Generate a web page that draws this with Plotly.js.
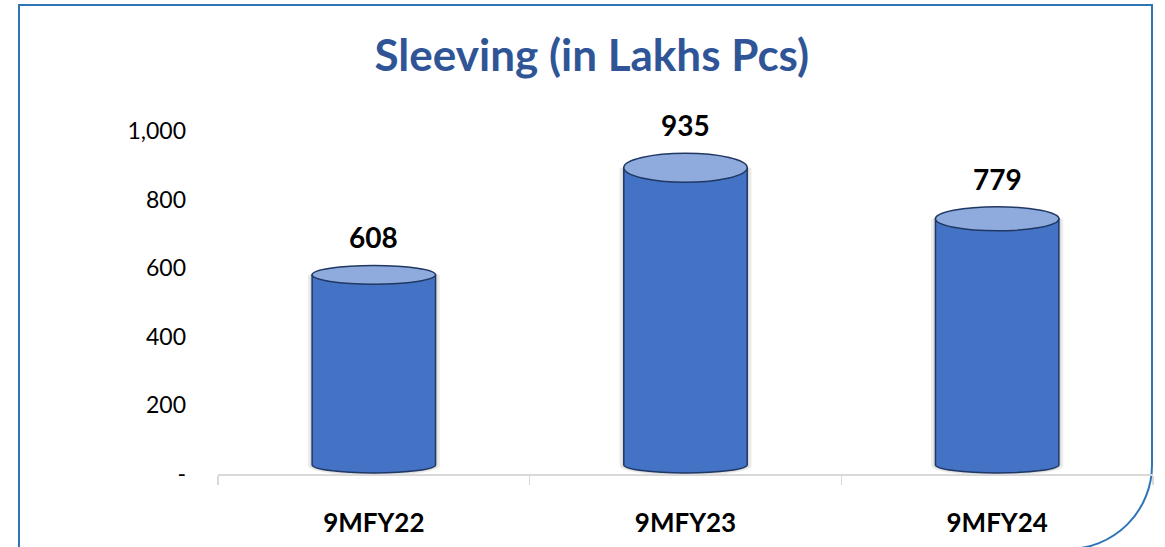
<!DOCTYPE html>
<html>
<head>
<meta charset="utf-8">
<script src="https://cdn.plot.ly/plotly-3.0.1.min.js"></script>
<style>
  html, body { margin:0; padding:0; width:1165px; height:547px; overflow:hidden; background:#fff; }
  #frame { position:absolute; left:18px; top:4px; width:1135px; height:546px; box-sizing:border-box;
           border:2.5px solid #2E75B6; border-bottom-right-radius:85px; }
  #chart { position:absolute; left:0; top:0; width:1165px; height:547px; }
</style>
</head>
<body>
<div id="frame"></div>
<div id="chart"></div>
<script>
const categories = ['9MFY22', '9MFY23', '9MFY24'];
const values = [608, 935, 779];
const yTickVals = [0, 200, 400, 600, 800, 1000];
const yTickText = ['-', '200', '400', '600', '800', '1,000'];

const FONT = 'Lato, "Open Sans", sans-serif';
const BODY = '#4472C4', TOP = '#8FAADC', EDGE = '#1F3864';
const halfW = 0.198, k = 0.5523, ryB = 24, botC = 27;

const xs = categories.map((c, i) => i);
const topC = values.map(v => v - 0.045 * v);

const shapes = [];
values.forEach((v, i) => {
  const ryT = 0.045 * v;
  const tc = v - ryT;
  const L = i - halfW, R = i + halfW;
  const bodyPath = (l, r, t, b, ry, cx) =>
    `M ${l},${t} L ${l},${b} C ${l},${b - k * ry} ${cx - k * (r - l) / 2},${b - ry} ${cx},${b - ry} ` +
    `C ${cx + k * (r - l) / 2},${b - ry} ${r},${b - k * ry} ${r},${b} L ${r},${t} Z`;
  // soft shadow
  shapes.push({ type: 'path', xref: 'x', yref: 'y', layer: 'below',
    path: bodyPath(L - 0.014, R + 0.014, tc, botC - 4, ryB + 4, i),
    fillcolor: 'rgba(0,0,0,0.07)', line: { width: 0 } });
  shapes.push({ type: 'path', xref: 'x', yref: 'y', layer: 'below',
    path: bodyPath(L - 0.007, R + 0.007, tc, botC - 2, ryB + 2, i),
    fillcolor: 'rgba(0,0,0,0.08)', line: { width: 0 } });
  // body outline
  shapes.push({ type: 'path', xref: 'x', yref: 'y', layer: 'above',
    path: bodyPath(L, R, tc, botC, ryB, i),
    fillcolor: BODY, line: { color: EDGE, width: 1.5 } });
  // top ellipse
  shapes.push({ type: 'circle', xref: 'x', yref: 'y', layer: 'above',
    x0: L, x1: R, y0: v - 2 * ryT, y1: v,
    fillcolor: TOP, line: { color: EDGE, width: 1.5 } });
});

const annotations = values.map((v, i) => ({
  x: i, y: v, xref: 'x', yref: 'y', text: '<b>' + v + '</b>', showarrow: false,
  yanchor: 'bottom', yshift: 9, font: { family: FONT, size: 28, color: '#000' }
}));

const trace = {
  type: 'bar', x: xs, y: topC.map(t => t - botC), base: values.map(() => botC),
  width: 2 * halfW, marker: { color: BODY, line: { width: 0 } }, hoverinfo: 'skip'
};

const layout = {
  width: 1165, height: 547,
  margin: { l: 218, r: 12, t: 131, b: 73, pad: 0 },
  paper_bgcolor: 'rgba(0,0,0,0)', plot_bgcolor: 'rgba(0,0,0,0)',
  showlegend: false,
  title: { text: '<b>Sleeving (in Lakhs Pcs)</b>', x: 0.508, xref: 'container', xanchor: 'center',
           y: 0.898, yref: 'container', yanchor: 'middle',
           font: { family: FONT, size: 44, color: '#2F5597' } },
  xaxis: {
    range: [-0.5, 2.5], tickvals: xs, ticktext: categories, ticks: '',
    showgrid: false, zeroline: false, showline: true, linecolor: '#D9D9D9', linewidth: 1.5,
    tickfont: { family: FONT, size: 26, color: '#000', weight: 'bold' },
    ticklabelstandoff: 25,
    minor: { tickvals: [-0.5, 0.5, 1.5, 2.5], ticks: 'outside', ticklen: 9, tickcolor: '#D9D9D9', tickwidth: 1.5, showgrid: false },
    fixedrange: true
  },
  yaxis: {
    range: [0, 1000], tickvals: yTickVals, ticktext: yTickText, ticks: '',
    showgrid: false, zeroline: false, showline: false,
    tickfont: { family: FONT, size: 23, color: '#000' },
    ticklabelstandoff: 31, fixedrange: true
  },
  shapes: shapes,
  annotations: annotations
};

Plotly.newPlot('chart', [trace], layout, { displayModeBar: false, staticPlot: true });
</script>
</body>
</html>
